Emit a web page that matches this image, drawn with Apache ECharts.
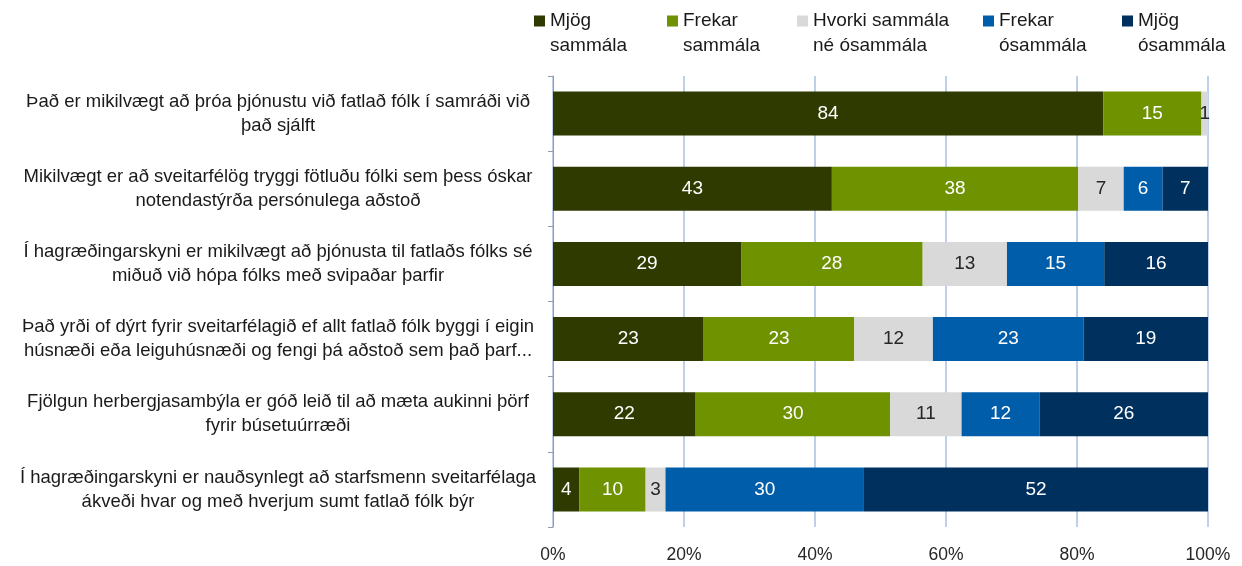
<!DOCTYPE html>
<html>
<head>
<meta charset="utf-8">
<script src="https://cdn.jsdelivr.net/npm/echarts@6/dist/echarts.min.js"></script>
<style>
  html, body { margin: 0; padding: 0; background: #fff; }
  #chart { width: 1242px; height: 566px; }
</style>
</head>
<body>
<div id="chart"></div>
<script>
// spurningar (flokkar)
var categories = [
  'Það er mikilvægt að þróa þjónustu við fatlað fólk í samráði við\nþað sjálft',
  'Mikilvægt er að sveitarfélög tryggi fötluðu fólki sem þess óskar\nnotendastýrða persónulega aðstoð',
  'Í hagræðingarskyni er mikilvægt að þjónusta til fatlaðs fólks sé\nmiðuð við hópa fólks með svipaðar þarfir',
  'Það yrði of dýrt fyrir sveitarfélagið ef allt fatlað fólk byggi í eigin\nhúsnæði eða leiguhúsnæði og fengi þá aðstoð sem það þarf...',
  'Fjölgun herbergjasambýla er góð leið til að mæta aukinni þörf\nfyrir búsetuúrræði',
  'Í hagræðingarskyni er nauðsynlegt að starfsmenn sveitarfélaga\nákveði hvar og með hverjum sumt fatlað fólk býr'
];

var seriesNames = ['Mjög\nsammála', 'Frekar\nsammála', 'Hvorki sammála\nné ósammála', 'Frekar\nósammála', 'Mjög\nósammála'];

// hlutföll í %
var mjogSammala    = [84, 43, 29, 23, 22, 4];
var frekarSammala  = [15, 38, 28, 23, 30, 10];
var hvorki         = [1, 7, 13, 12, 11, 3];
var frekarOsammala = [0, 6, 15, 23, 12, 30];
var mjogOsammala   = [0, 7, 16, 19, 26, 52];

var xTicks = [0, 20, 40, 60, 80, 100];

var colors = ['#2e3a00', '#6e9200', '#d9d9d9', '#005daa', '#00305e'];
var labelColors = ['#fff', '#fff', '#262626', '#fff', '#fff'];

// x-staða hvers legend-tákns
var legendLeft = [534, 667, 797, 983, 1122];

var allSeries = [mjogSammala, frekarSammala, hvorki, frekarOsammala, mjogOsammala];

// summa hverrar línu, til að fylla 100%
var rowSums = categories.map(function (c, i) {
  var s = 0;
  allSeries.forEach(function (arr) { s += arr[i]; });
  return s;
});

var FONT = '"Liberation Sans", Arial, sans-serif';

var myChart = echarts.init(document.getElementById('chart'));

var series = allSeries.map(function (arr, k) {
  return {
    name: seriesNames[k],
    type: 'bar',
    stack: 'total',
    barWidth: 44,
    itemStyle: { color: colors[k] },
    label: {
      show: true,
      position: 'inside',
      color: labelColors[k],
      fontFamily: FONT,
      fontSize: 19,
      formatter: function (p) {
        var raw = arr[p.dataIndex];
        return raw > 0 ? String(raw) : '';
      }
    },
    data: arr.map(function (v, i) { return v / rowSums[i] * 100; })
  };
});

// ferningur efst í háum kassa svo hann standi við fyrstu línu
var legendIcon = 'path://M0,6.8h10v10h-10z M0,0h0.01v0.01z M0,45.4h0.01v0.01z';

var legends = seriesNames.map(function (n, k) {
  return {
    top: 8,
    left: legendLeft[k],
    padding: 0,
    itemWidth: 11,
    itemHeight: 50,
    icon: legendIcon,
    textStyle: { fontFamily: FONT, fontSize: 19, color: '#1a1a1a', lineHeight: 25 },
    data: [n]
  };
});

var option = {
  animation: false,
  color: colors,
  legend: legends,
  grid: { left: 553, right: 34, top: 76, bottom: 39, containLabel: false },
  xAxis: {
    type: 'value',
    min: 0,
    max: 100,
    interval: 20,
    axisLine: { show: false },
    axisTick: { show: false },
    splitLine: { show: true, lineStyle: { color: '#a9bfe3', width: 1.5 } },
    axisLabel: {
      fontFamily: FONT,
      fontSize: 17.5,
      color: '#262626',
      margin: 19,
      formatter: function (v) { return xTicks.indexOf(v) >= 0 ? v + '%' : ''; }
    }
  },
  yAxis: {
    type: 'category',
    inverse: true,
    data: categories,
    axisLine: { show: true, lineStyle: { color: '#9a9a9a' } },
    axisTick: { show: true, length: 5, lineStyle: { color: '#9a9a9a' } },
    axisLabel: {
      fontFamily: FONT,
      fontSize: 18.5,
      color: '#1a1a1a',
      lineHeight: 24,
      align: 'center',
      margin: 275
    }
  },
  series: series
};

myChart.setOption(option);
</script>
</body>
</html>
